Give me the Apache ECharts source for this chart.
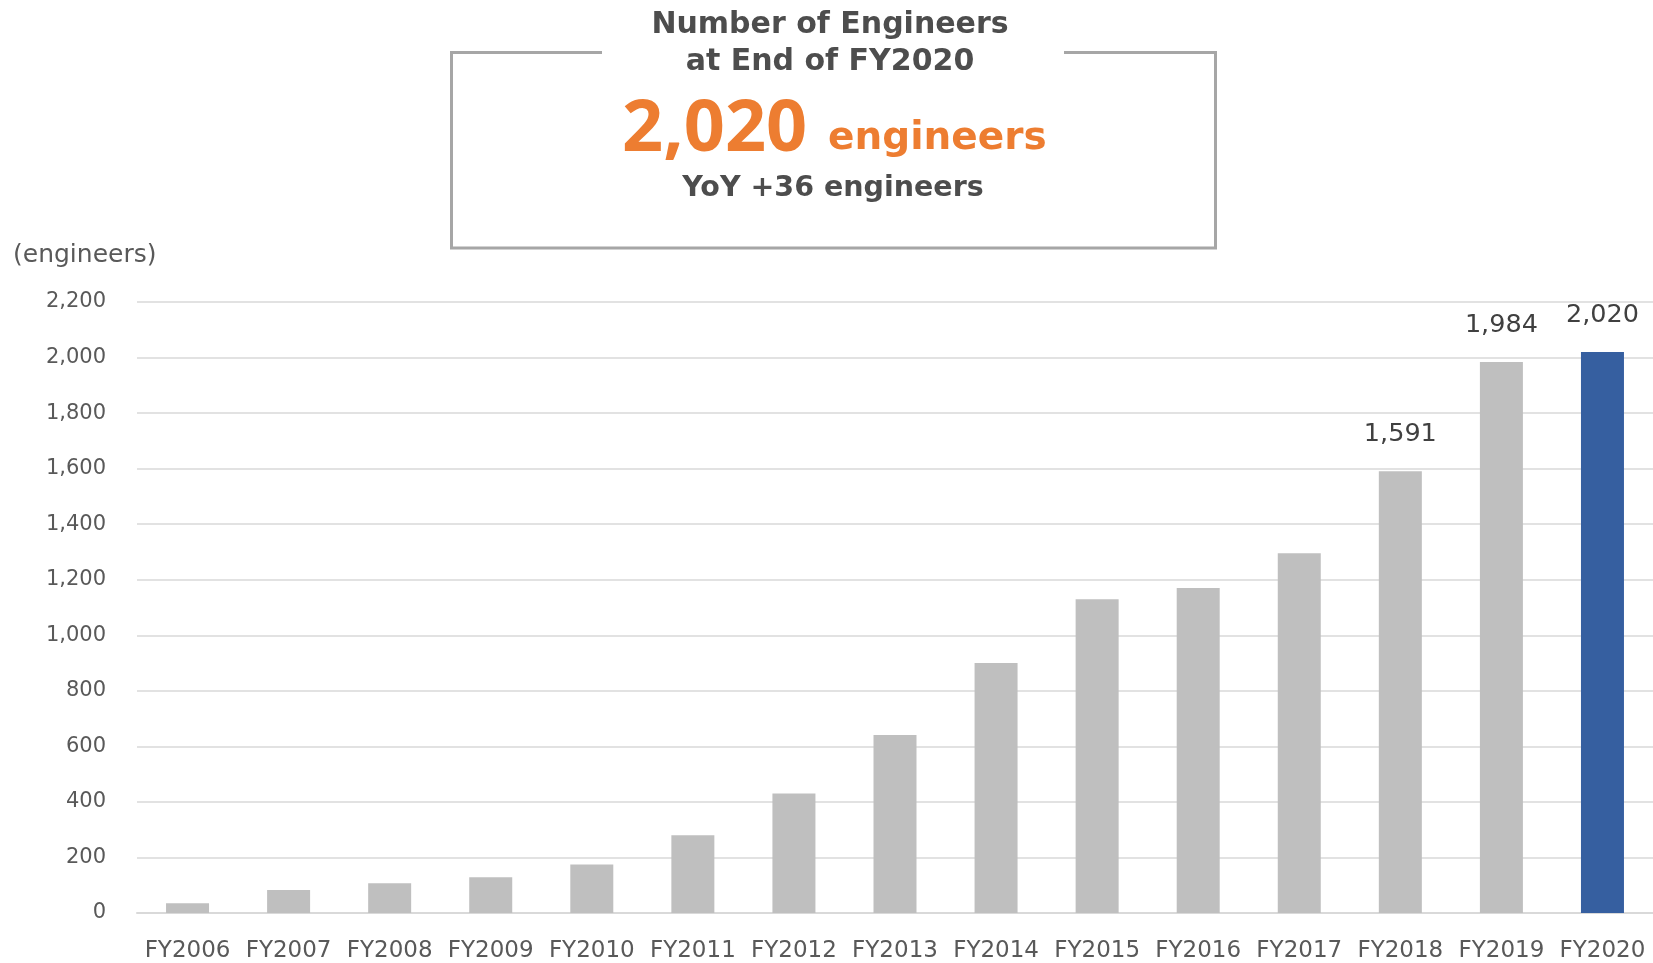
<!DOCTYPE html>
<html>
<head>
<meta charset="utf-8">
<script src="https://cdn.jsdelivr.net/npm/echarts@6/dist/echarts.min.js"></script>
<style>
html,body{margin:0;padding:0;background:#fff;}
#chart{width:1653px;height:963px;}
</style>
</head>
<body>
<div id="chart"></div>
<script>
const categories = ['FY2006','FY2007','FY2008','FY2009','FY2010','FY2011','FY2012','FY2013','FY2014','FY2015','FY2016','FY2017','FY2018','FY2019','FY2020'];
const engineers = [35, 83, 107, 129, 175, 280, 430, 641, 900, 1130, 1170, 1295, 1591, 1984, 2020];
const labelledYears = ['FY2018','FY2019','FY2020'];
const highlightYear = 'FY2020';
const yTicks = {min: 0, max: 2200, interval: 200};
const unitLabel = '(engineers)';
const headline1 = 'Number of Engineers';
const headline2 = 'at End of FY2020';
const headlineValue = '2,020';
const headlineUnit = 'engineers';
const headlineYoY = 'YoY +36 engineers';

const fmt = v => Number(v).toLocaleString('en-US');

const chart = echarts.init(document.getElementById('chart'));
const seriesData = engineers.map((v, i) => ({
  value: v,
  itemStyle: {color: categories[i] === highlightYear ? '#365FA0' : '#BFBFBF'},
  label: {show: labelledYears.includes(categories[i])}
}));

chart.setOption({
  animation: false,
  backgroundColor: '#ffffff',
  grid: {left: 137, right: 0, top: 302, bottom: 49, containLabel: false},
  xAxis: {
    type: 'category',
    data: categories,
    axisLine: {lineStyle: {color: '#D9D9D9', width: 2}},
    axisTick: {show: false},
    axisLabel: {color: '#595959', fontFamily: 'DejaVu Sans', fontSize: 23, margin: 27, interval: 0}
  },
  yAxis: {
    type: 'value',
    min: yTicks.min, max: yTicks.max, interval: yTicks.interval,
    axisLine: {show: false},
    axisTick: {show: false},
    splitLine: {lineStyle: {color: '#D9D9D9', width: 1.5}},
    axisLabel: {color: '#595959', fontFamily: 'DejaVu Sans', fontSize: 21, margin: 31, formatter: fmt}
  },
  series: [{
    type: 'bar',
    data: seriesData,
    barWidth: 43,
    label: {
      position: 'top', distance: 24, color: '#404040',
      fontFamily: 'DejaVu Sans', fontSize: 25.5,
      formatter: p => fmt(p.value)
    }
  }],
  graphic: [
    {type: 'text', left: 13, top: 243, style: {text: unitLabel, fill: '#595959', font: '25px "DejaVu Sans"'}},
    {type: 'polyline', shape: {points: [[602, 52.5], [451.5, 52.5], [451.5, 248], [1215.5, 248], [1215.5, 52.5], [1064, 52.5]]},
      style: {stroke: '#A6A6A6', lineWidth: 3, fill: null}},
    {type: 'text', x: 830, y: 25, style: {text: headline1, fill: '#4D4D4D', font: 'bold 30px "DejaVu Sans"', align: 'center', verticalAlign: 'middle'}},
    {type: 'text', x: 830, y: 62, style: {text: headline2, fill: '#4D4D4D', font: 'bold 30px "DejaVu Sans"', align: 'center', verticalAlign: 'middle'}},
    {type: 'text', x: 622, y: 130, style: {text: headlineValue, fill: '#ED7D31', font: 'bold 72px "Noto Sans"', align: 'left', verticalAlign: 'middle'}},
    {type: 'text', x: 828, y: 139, style: {text: headlineUnit, fill: '#ED7D31', font: 'bold 39px "DejaVu Sans"', align: 'left', verticalAlign: 'middle'}},
    {type: 'text', x: 833, y: 189, style: {text: headlineYoY, fill: '#4D4D4D', font: 'bold 28.5px "DejaVu Sans"', align: 'center', verticalAlign: 'middle'}}
  ]
});
</script>
</body>
</html>
